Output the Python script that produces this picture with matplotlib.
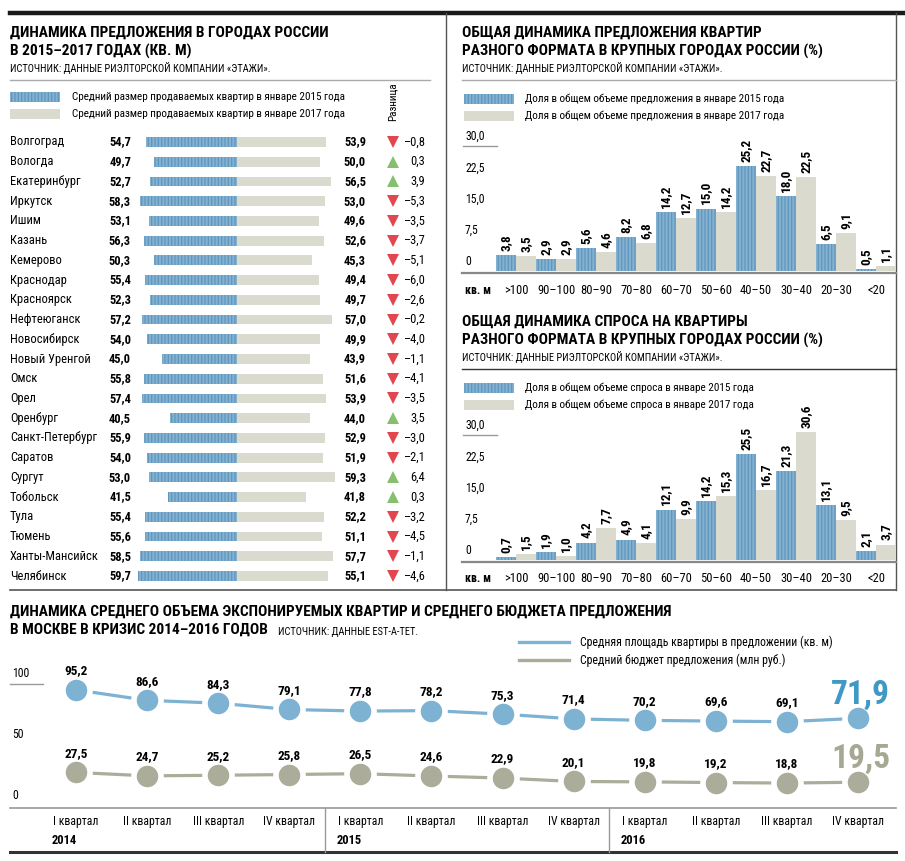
import matplotlib
matplotlib.use('Agg')
import matplotlib.pyplot as plt
from matplotlib import font_manager, transforms
from matplotlib.patches import Rectangle

# ---- data ----
cities = ['Волгоград', 'Вологда', 'Екатеринбург', 'Иркутск', 'Ишим', 'Казань', 'Кемерово',
          'Краснодар', 'Красноярск', 'Нефтеюганск', 'Новосибирск', 'Новый Уренгой', 'Омск',
          'Орел', 'Оренбург', 'Санкт-Петербург', 'Саратов', 'Сургут', 'Тобольск', 'Тула',
          'Тюмень', 'Ханты-Мансийск', 'Челябинск']
size2015 = [54.7, 49.7, 52.7, 58.3, 53.1, 56.3, 50.3, 55.4, 52.3, 57.2, 54.0, 45.0, 55.8,
            57.4, 40.5, 55.9, 54.0, 53.0, 41.5, 55.4, 55.6, 58.5, 59.7]
size2017 = [53.9, 50.0, 56.5, 53.0, 49.6, 52.6, 45.3, 49.4, 49.7, 57.0, 49.9, 43.9, 51.6,
            53.9, 44.0, 52.9, 51.9, 59.3, 41.8, 52.2, 51.1, 57.7, 55.1]
size_diff = [-0.8, 0.3, 3.9, -5.3, -3.5, -3.7, -5.1, -6.0, -2.6, -0.2, -4.0, -1.1, -4.1,
             -3.5, 3.5, -3.0, -2.1, 6.4, 0.3, -3.2, -4.5, -1.1, -4.6]

formats = ['>100', '90–100', '80–90', '70–80', '60–70', '50–60', '40–50', '30–40', '20–30', '<20']
offer2015 = [3.8, 2.9, 5.6, 8.2, 14.2, 15.0, 25.2, 18.0, 6.5, 0.5]
offer2017 = [3.5, 2.9, 4.6, 6.8, 12.7, 14.2, 22.7, 22.5, 9.1, 1.1]
demand2015 = [0.7, 1.9, 4.2, 4.9, 12.1, 14.2, 25.5, 21.3, 13.1, 2.1]
demand2017 = [1.5, 1.0, 7.7, 4.1, 9.9, 15.3, 16.7, 30.6, 9.5, 3.7]

quarters = ['I квартал', 'II квартал', 'III квартал', 'IV квартал'] * 3
years = ['2014', '2015', '2016']
area = [95.2, 86.6, 84.3, 79.1, 77.8, 78.2, 75.3, 71.4, 70.2, 69.6, 69.1, 71.9]
budget = [27.5, 24.7, 25.2, 25.8, 26.5, 24.6, 22.9, 20.1, 19.8, 19.2, 18.8, 19.5]

# ---- style ----
names = {f.name for f in font_manager.fontManager.ttflist}
for fam in ['Liberation Sans Narrow', 'Roboto Condensed', 'DejaVu Sans Condensed', 'Liberation Sans']:
    if fam in names:
        break
plt.rcParams['font.family'] = [fam, 'DejaVu Sans']
plt.rcParams['hatch.linewidth'] = 0.9

BLUE = '#82b1d1'
BLUE_STRIPE = '#6196bd'
GRAY = '#dadacf'
LINE_BLUE = '#7db2d2'
LINE_GRAY = '#abac9a'
DARK = '#1a1a1a'
RED = '#e2474f'
GREEN = '#86c06e'
HATCH = '|||||'
TITLE = 11.1


def fmt(v, dash=False):
    s = f'{abs(v):.1f}'.replace('.', ',')
    return ('–' + s) if (v < 0 and dash) else s


W, H = 905, 861
fig = plt.figure(figsize=(W / 100, H / 100), dpi=100)
bg = fig.add_axes([0, 0, 1, 1])
bg.set_xlim(0, W)
bg.set_ylim(H, 0)
bg.axis('off')


def box(x0, y0, x1, y1):
    return [x0 / W, 1 - y1 / H, (x1 - x0) / W, (y1 - y0) / H]


# frame lines
bg.plot([10, 905], [13, 13], color=DARK, lw=3.2)
bg.plot([446, 446], [13, 590], color='#555555', lw=1)
bg.plot([896, 896], [13, 590], color='#555555', lw=1)
bg.plot([10, 896], [590, 590], color='#555555', lw=1.2)
bg.plot([10, 896], [852, 852], color='#333333', lw=2.2)

# ================= left panel =================
bg.text(10, 33, 'ДИНАМИКА ПРЕДЛОЖЕНИЯ В ГОРОДАХ РОССИИ', fontsize=TITLE, fontweight='bold', va='center')
bg.text(10, 51, 'В 2015–2017 ГОДАХ (КВ. М)', fontsize=TITLE, fontweight='bold', va='center')
bg.text(10, 68, 'ИСТОЧНИК: ДАННЫЕ РИЭЛТОРСКОЙ КОМПАНИИ «ЭТАЖИ».', fontsize=7.5, va='center')
bg.plot([10, 430], [80, 80], color='#aaaaaa', lw=1)
bg.add_patch(Rectangle((10, 92), 50, 10, facecolor=BLUE, edgecolor=BLUE_STRIPE, lw=0, hatch=HATCH))
bg.add_patch(Rectangle((10, 109), 50, 10, facecolor=GRAY, lw=0))
bg.text(72, 97, 'Средний размер продаваемых квартир в январе 2015 года', fontsize=8, va='center')
bg.text(72, 114, 'Средний размер продаваемых квартир в январе 2017 года', fontsize=8, va='center')
bg.text(393, 102, 'Разница', fontsize=8, rotation=90, ha='center', va='center')

n = len(cities)
step = (576 - 142) / (n - 1)
axL = fig.add_axes(box(137, 142 - step / 2, 337, 576 + step / 2))
axL.set_xlim(-100 / 1.66, 100 / 1.66)
axL.set_ylim(n - 0.5, -0.5)
axL.axis('off')
rows = list(range(n))
axL.barh(rows, [-v for v in size2015], height=0.5, color=BLUE, edgecolor=BLUE_STRIPE, lw=0, hatch=HATCH)
axL.barh(rows, size2017, height=0.5, color=GRAY, lw=0)

TL = transforms.blended_transform_factory(bg.transData, axL.transData)
for i in rows:
    axL.text(10, i, cities[i], transform=TL, fontsize=9, va='center')
    axL.text(131, i, fmt(size2015[i]), transform=TL, fontsize=9, fontweight='bold', va='center', ha='right')
    axL.text(366, i, fmt(size2017[i]), transform=TL, fontsize=9, fontweight='bold', va='center', ha='right')
    up = size_diff[i] >= 0
    axL.plot([393], [i], transform=TL, marker='^' if up else 'v', ms=8.5, mew=0,
             color=GREEN if up else RED, clip_on=False)
    axL.text(425, i, fmt(size_diff[i], dash=True), transform=TL, fontsize=9, va='center', ha='right')


# ================= right bar charts =================
def bar_panel(dy, subject, legend, v15, v17, sep_color):
    bg.text(462, 33 + dy, 'ОБЩАЯ ДИНАМИКА ' + subject, fontsize=TITLE, fontweight='bold', va='center')
    bg.text(462, 51 + dy, 'РАЗНОГО ФОРМАТА В КРУПНЫХ ГОРОДАХ РОССИИ (%)', fontsize=TITLE, fontweight='bold', va='center')
    bg.text(462, 68 + dy, 'ИСТОЧНИК: ДАННЫЕ РИЭЛТОРСКОЙ КОМПАНИИ «ЭТАЖИ».', fontsize=7.5, va='center')
    bg.plot([462, 896], [80 + dy, 80 + dy], color=sep_color, lw=1)
    bg.add_patch(Rectangle((464, 94 + dy), 50, 10, facecolor=BLUE, edgecolor=BLUE_STRIPE, lw=0, hatch=HATCH))
    bg.add_patch(Rectangle((464, 111 + dy), 50, 10, facecolor=GRAY, lw=0))
    bg.text(525, 99 + dy, legend[0], fontsize=8, va='center')
    bg.text(525, 116 + dy, legend[1], fontsize=8, va='center')

    ax = fig.add_axes(box(496, 146 + dy, 896, 271 + dy))
    ax.set_xlim(-0.5, len(formats) - 0.5)
    ax.set_ylim(0, 30)
    ax.axis('off')
    x = list(range(len(formats)))
    ax.bar([i - 0.25 for i in x], v15, width=0.5, color=BLUE, edgecolor=BLUE_STRIPE, lw=0, hatch=HATCH)
    ax.bar([i + 0.25 for i in x], v17, width=0.5, color=GRAY, lw=0, clip_on=False)
    for i in x:
        for off, v in ((-0.25, v15[i]), (0.25, v17[i])):
            ax.annotate(fmt(v), (i + off, v), xytext=(0, 3), textcoords='offset points',
                        rotation=90, ha='center', va='bottom', fontsize=9.5, fontweight='bold',
                        annotation_clip=False)
    TY = transforms.blended_transform_factory(bg.transData, ax.transData)
    for t in [0, 7.5, 15, 22.5, 30]:
        ax.annotate(fmt(t) if t else '0', (465, t), xycoords=TY, xytext=(0, 2), textcoords='offset points',
                    fontsize=8.5, va='bottom', ha='left', annotation_clip=False)
    ax.plot([463, 497], [30, 30], transform=TY, color='#999999', lw=1, clip_on=False)
    ax.plot([462, 896], [-0.5, -0.5], transform=TY, color='#888888', lw=1.6, clip_on=False)
    TX = transforms.blended_transform_factory(ax.transData, bg.transData)
    for i in x:
        ax.text(i, 290 + dy, formats[i], transform=TX, fontsize=9, ha='center', va='center')
    bg.text(465, 290 + dy, 'кв. м', fontsize=8.5, fontweight='bold', va='center')


bar_panel(0, 'ПРЕДЛОЖЕНИЯ КВАРТИР',
          ['Доля в общем объеме предложения в январе 2015 года',
           'Доля в общем объеме предложения в январе 2017 года'],
          offer2015, offer2017, '#aaaaaa')
bar_panel(289, 'СПРОСА НА КВАРТИРЫ',
          ['Доля в общем объеме спроса в январе 2015 года',
           'Доля в общем объеме спроса в январе 2017 года'],
          demand2015, demand2017, '#333333')

# ================= bottom line chart =================
bg.text(10, 612, 'ДИНАМИКА СРЕДНЕГО ОБЪЕМА ЭКСПОНИРУЕМЫХ КВАРТИР И СРЕДНЕГО БЮДЖЕТА ПРЕДЛОЖЕНИЯ',
        fontsize=TITLE, fontweight='bold', va='center')
bg.text(10, 630, 'В МОСКВЕ В КРИЗИС 2014–2016 ГОДОВ', fontsize=TITLE, fontweight='bold', va='center')
bg.text(278, 632, 'ИСТОЧНИК: ДАННЫЕ EST-A-TET.', fontsize=7.5, va='center')
bg.plot([519, 569], [642, 642], color=LINE_BLUE, lw=2.4)
bg.plot([519, 569], [660, 660], color=LINE_GRAY, lw=2.4)
bg.text(580, 642, 'Средняя площадь квартиры в предложении (кв. м)', fontsize=8.5, va='center')
bg.text(580, 660, 'Средний бюджет предложения (млн руб.)', fontsize=8.5, va='center')

axB = fig.add_axes(box(40.5, 684, 893.5, 806))
axB.set_xlim(-0.5, len(area) - 0.5)
axB.set_ylim(0, 100)
axB.axis('off')
xq = list(range(len(area)))
for vals, col, big in ((area, LINE_BLUE, '#3f99c6'), (budget, LINE_GRAY, '#a7a894')):
    axB.plot(xq, vals, color=col, lw=2.3, marker='o', ms=19.5, mfc=col, mec='white', mew=4, clip_on=False)
    for i, v in enumerate(vals[:-1]):
        axB.annotate(fmt(v), (i, v), xytext=(0, 9), textcoords='offset points',
                     ha='center', va='bottom', fontsize=9.5, fontweight='bold')
    axB.annotate(fmt(vals[-1]), (xq[-1], vals[-1]), xytext=(2, 10), textcoords='offset points',
                 ha='center', va='baseline', fontsize=24, fontweight='bold', color=big)

TBY = transforms.blended_transform_factory(bg.transData, axB.transData)
for t in [0, 50, 100]:
    axB.annotate(str(t), (12, t), xycoords=TBY, xytext=(0, 3), textcoords='offset points',
                 fontsize=8.5, va='bottom', ha='left', annotation_clip=False)
axB.plot([10, 43], [100, 100], transform=TBY, color='#999999', lw=1, clip_on=False)
axB.plot([10, 896], [-1.6, -1.6], transform=TBY, color='#999999', lw=1.2, clip_on=False)

TBX = transforms.blended_transform_factory(axB.transData, bg.transData)
for i, q in enumerate(quarters):
    axB.text(i, 822, q, transform=TBX, fontsize=8.5, ha='center', va='center')
for k, yr in enumerate(years):
    axB.text(4 * k - 0.34, 840, yr, transform=TBX, fontsize=9, fontweight='bold', ha='left', va='center')
for xs in (3.5, 7.5):
    axB.plot([xs, xs], [808, 852], transform=TBX, color='#999999', lw=1, clip_on=False)

fig.savefig('out.png', dpi=100)
